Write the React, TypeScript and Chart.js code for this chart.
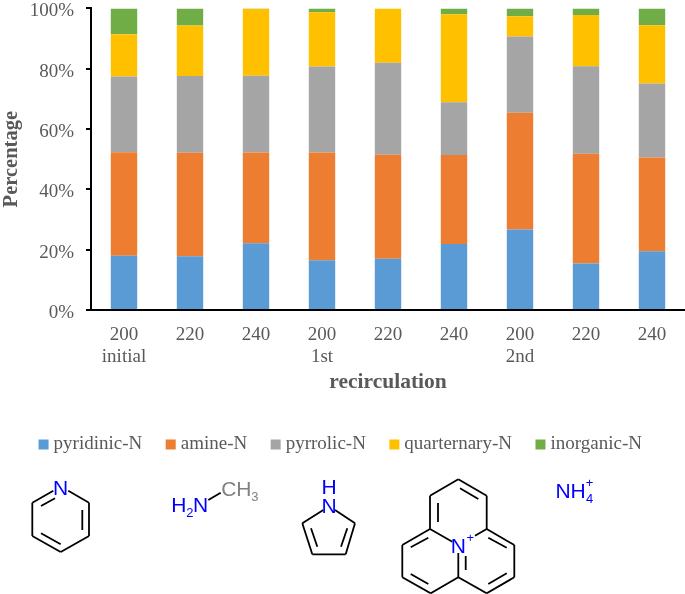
import React, { useEffect, useRef } from "react";
import { Chart, registerables } from "chart.js";

Chart.register(...registerables);

const categories: string[][] = [
  ["200", "initial"], ["220"], ["240"],
  ["200", "1st"], ["220"], ["240"],
  ["200", "2nd"], ["220"], ["240"],
];
const pyridinic = [18.0, 17.8, 22.1, 16.5, 17.0, 21.9, 26.7, 15.4, 19.5];
const amine = [34.3, 34.3, 30.1, 35.7, 34.5, 29.5, 38.7, 36.4, 31.1];
const pyrrolic = [25.1, 25.5, 25.5, 28.5, 30.5, 17.5, 25.3, 29.0, 24.5];
const quarternary = [14.0, 16.7, 22.1, 18.0, 18.0, 29.2, 6.7, 17.0, 19.3];
const inorganic = [8.6, 5.7, 0.2, 1.3, 0.0, 1.9, 2.6, 2.2, 5.6];

const SERIF = "'Liberation Serif', serif";
const SANS = "'Liberation Sans', sans-serif";
const TEXT = "#595959";
const BLUE = "#0000ff";

type Seg = [number, number, number, number];
const bonds: Seg[] = [
  // pyridine
  [32.3, 502.7, 53.3, 490.7], [68.3, 490.7, 89, 502.7], [89, 502.7, 89, 536], [89, 536, 60.7, 552],
  [60.7, 552, 32.3, 536], [32.3, 536, 32.3, 502.7], [41, 506, 55, 498.3], [82.3, 510, 82.3, 530], [41, 533.3, 60.7, 544.3],
  // methylamine
  [208.3, 500, 220.7, 492.7],
  // pyrrole
  [323.3, 510, 302.3, 523.3], [302.3, 523.3, 312.3, 554.3], [312.3, 554.3, 345.7, 554.3], [345.7, 554.3, 355, 523.3],
  [355, 523.3, 335, 510], [311, 528.3, 317.3, 546.7], [347.3, 528.3, 341, 546.7],
  // quinolizinium
  [458.3, 479.3, 430, 495.7], [458.3, 479.3, 486.7, 495.7], [430, 495.7, 430, 529], [486.7, 495.7, 486.7, 529],
  [430, 529, 452.3, 541.7], [486.7, 529, 475, 535.7], [430, 529, 402.3, 545], [486.7, 529, 514.3, 545],
  [402.3, 545, 402.3, 577.3], [514.3, 545, 514.3, 577.3], [402.3, 577.3, 430.7, 593.3], [514.3, 577.3, 486.7, 593.3],
  [430.7, 593.3, 458.3, 577.3], [486.7, 593.3, 458.3, 577.3], [458.3, 553, 458.3, 577.3], [465.7, 556, 465.7, 570],
  [460, 488.3, 478.3, 499], [438, 503, 438, 522], [410.7, 547.3, 428.3, 537.7], [488.3, 537.7, 506.7, 547.7],
  [506.7, 573.3, 488.3, 584], [428.3, 584, 410.7, 574],
];
type Label = [string, number, number, number, string];
const atoms: Label[] = [
  ["N", 53, 495, 21, BLUE],
  ["H", 171.3, 512, 21, BLUE], ["2", 186.3, 517, 13, BLUE], ["N", 193, 512, 21, BLUE],
  ["C", 221.3, 496, 21, "#808080"], ["H", 236.2, 496, 21, "#808080"], ["3", 251.3, 501, 13, "#808080"],
  ["H", 321.4, 494, 21, BLUE], ["N", 321.4, 512.5, 21, BLUE],
  ["N", 450.7, 553, 21, BLUE], ["+", 466.5, 541.5, 13, BLUE],
  ["N", 555.5, 498, 21, BLUE], ["H", 570.4, 498, 21, BLUE], ["+", 585.8, 487, 13, BLUE], ["4", 586, 503, 13, BLUE],
];

export default function App() {
  const ref = useRef<HTMLCanvasElement>(null);
  useEffect(() => {
    const chart = new Chart(ref.current!, {
      type: "bar",
      data: {
        labels: categories,
        datasets: [
          { label: "pyridinic-N", data: pyridinic, backgroundColor: "#5B9BD5" },
          { label: "amine-N", data: amine, backgroundColor: "#ED7D31" },
          { label: "pyrrolic-N", data: pyrrolic, backgroundColor: "#A5A5A5" },
          { label: "quarternary-N", data: quarternary, backgroundColor: "#FFC000" },
          { label: "inorganic-N", data: inorganic, backgroundColor: "#70AD47" },
        ],
      },
      options: {
        animation: false,
        responsive: false,
        maintainAspectRatio: false,
        barPercentage: 0.4,
        categoryPercentage: 1,
        layout: { autoPadding: false, padding: { top: 9, bottom: 115, left: 0, right: 0 } },
        plugins: {
          tooltip: { enabled: false },
          legend: {
            position: "bottom",
            labels: {
              usePointStyle: true,
              pointStyle: "rect",
              boxWidth: 1,
              boxHeight: 10,
              padding: 28,
              color: TEXT,
              font: { family: SERIF, size: 19 },
            },
          },
        },
        scales: {
          x: {
            stacked: true,
            afterFit: (s: any) => { s.height = 97; },
            grid: { display: false },
            border: { color: "#000000", width: 2 },
            ticks: { color: TEXT, font: { family: SERIF, size: 19, lineHeight: 1.17 }, padding: 6, maxRotation: 0, autoSkip: false },
            title: {
              display: true,
              text: "recirculation",
              color: TEXT,
              font: { family: SERIF, size: 21.5, weight: "bold" },
              padding: { top: 0, bottom: 12 },
            },
          },
          y: {
            stacked: true,
            min: 0,
            max: 100,
            afterFit: (s: any) => { s.width = 91; },
            grid: { drawOnChartArea: false, drawTicks: true, tickLength: 5, color: "#000000", lineWidth: 2 },
            border: { color: "#000000", width: 2 },
            ticks: {
              stepSize: 20,
              color: TEXT,
              padding: 12,
              labelOffset: 3,
              font: { family: SERIF, size: 19 },
              callback: (v: any) => `${v}%`,
            },
            title: {
              display: true,
              text: "Percentage",
              color: TEXT,
              font: { family: SERIF, size: 20.5, weight: "bold", lineHeight: 1 },
              padding: { top: 1, bottom: 0 },
            },
          },
        },
      },
    } as any);
    return () => chart.destroy();
  }, []);

  return (
    <div style={{ position: "fixed", left: 0, top: 0, width: 685, height: 594, background: "#fff", overflow: "hidden" }}>
      <canvas ref={ref} width={685} height={594} style={{ position: "absolute", left: 0, top: -15, display: "block" }} />
      <svg width={685} height={594} style={{ position: "absolute", left: 0, top: 0 }}>
        {bonds.map((b, i) => (
          <line key={i} x1={b[0]} y1={b[1]} x2={b[2]} y2={b[3]} stroke="#000" strokeWidth={1.8} />
        ))}
        {atoms.map((a, i) => (
          <text key={i} x={a[1]} y={a[2]} fontSize={a[3]} fill={a[4]} fontFamily={SANS}>{a[0]}</text>
        ))}
      </svg>
    </div>
  );
}
